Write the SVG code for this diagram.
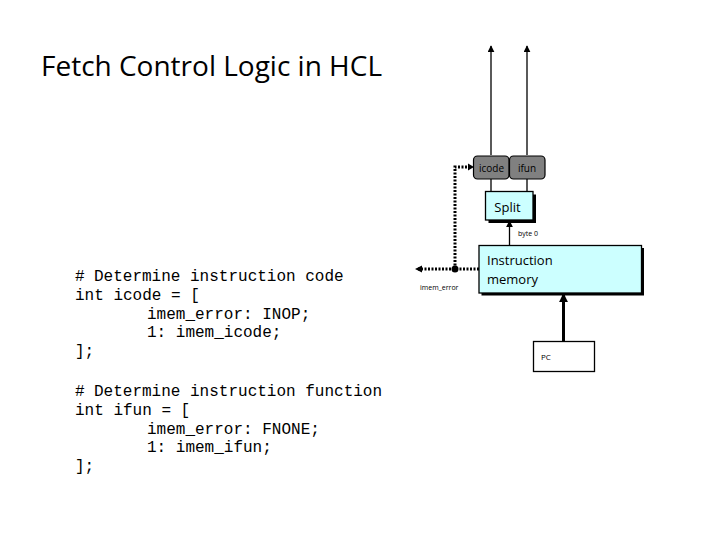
<svg xmlns="http://www.w3.org/2000/svg" width="719" height="539" viewBox="0 0 719 539">
<style>
.code{font-family:"Liberation Mono","Courier New",monospace;font-size:16px;fill:#000}
.small{font-family:"Open Sans","Liberation Sans",sans-serif;fill:#000}
.wire{stroke:#000;stroke-width:1.3;fill:none}
.dot{stroke:#000;stroke-width:3;stroke-dasharray:2 1.5;fill:none}
.cyan{fill:#ccffff;stroke:#000;stroke-width:1.3}
.shadow{fill:#000}
.gray{fill:#808080;stroke:#000;stroke-width:1.2}
</style>
<defs>
<marker id="ah" viewBox="0 0 10 10" refX="9" refY="5" markerWidth="7" markerHeight="7" markerUnits="userSpaceOnUse" orient="auto"><path d="M0,0L10,5L0,10z" fill="#000"/></marker>
<marker id="ahb" viewBox="0 0 10 10" refX="9" refY="5" markerWidth="9" markerHeight="9" markerUnits="userSpaceOnUse" orient="auto"><path d="M0,0L10,5L0,10z" fill="#000"/></marker>
</defs>
<rect width="719" height="539" fill="#fff"/>
<text x="41" y="76" font-family="Open Sans, Liberation Sans, sans-serif" font-size="28" textLength="341" lengthAdjust="spacingAndGlyphs">Fetch Control Logic in HCL</text>
<g id="code">
<text class="code" x="75" y="281">#<tspan x="94">Determine instruction code</tspan></text>
<text class="code" x="75" y="300">int icode = [</text>
<text class="code" x="147" y="318.5">imem_error: INOP;</text>
<text class="code" x="147" y="337">1: imem_icode;</text>
<text class="code" x="75" y="356">];</text>
<text class="code" x="75" y="396">#<tspan x="94">Determine instruction function</tspan></text>
<text class="code" x="75" y="415">int ifun = [</text>
<text class="code" x="147" y="433.5">imem_error: FNONE;</text>
<text class="code" x="147" y="452">1: imem_ifun;</text>
<text class="code" x="75" y="471">];</text>
</g>
<g id="connectors">
<line class="wire" x1="491" y1="155" x2="491" y2="46" marker-end="url(#ah)"/>
<line class="wire" x1="527" y1="155" x2="527" y2="46" marker-end="url(#ah)"/>
<line class="wire" x1="491" y1="179" x2="491" y2="192"/>
<line class="wire" x1="527" y1="179" x2="527" y2="192"/>
<line class="wire" x1="509.5" y1="245.5" x2="509.5" y2="221" marker-end="url(#ah)"/>
<line x1="563.5" y1="341.5" x2="563.5" y2="294" stroke="#000" stroke-width="3" marker-end="url(#ahb)"/>
<path class="dot" d="M479,269 H418"/>
<path d="M415,269 l7,-3.5 v7z" fill="#000"/>
<path class="dot" d="M455,269 V167 H470"/>
<path d="M474,167 l-6,-3.5 v7z" fill="#000"/>
<circle cx="455" cy="269" r="3.5" fill="#000"/>
</g>
<g id="icode">
<rect class="gray" x="473.5" y="156" width="35.5" height="23" rx="4"/>
<text class="small" x="491.5" y="171.5" font-size="10" text-anchor="middle">icode</text>
</g>
<g id="ifun">
<rect class="gray" x="509.5" y="156" width="35.5" height="23" rx="4"/>
<text class="small" x="527" y="171.5" font-size="10" text-anchor="middle">ifun</text>
</g>
<g id="split">
<rect class="shadow" x="488.5" y="194.5" width="47.5" height="28.5"/>
<rect class="cyan" x="485.5" y="191.5" width="47.5" height="28.5"/>
<text class="small" x="507.5" y="212" font-size="13" text-anchor="middle">Split</text>
</g>
<text class="small" x="518" y="236" font-size="7">byte 0</text>
<g id="memory">
<rect class="shadow" x="481.5" y="248" width="162.5" height="47.5"/>
<rect class="cyan" x="479" y="245.5" width="162.5" height="47.5"/>
<text class="small" x="487" y="265" font-size="13">Instruction</text>
<text class="small" x="487" y="284" font-size="13">memory</text>
</g>
<text class="small" x="420" y="290" font-size="7">imem_error</text>
<g id="pc">
<rect x="533.5" y="341.5" width="61" height="30" fill="#fff" stroke="#000" stroke-width="1.3"/>
<text class="small" x="541" y="360" font-size="8">PC</text>
</g>
</svg>
